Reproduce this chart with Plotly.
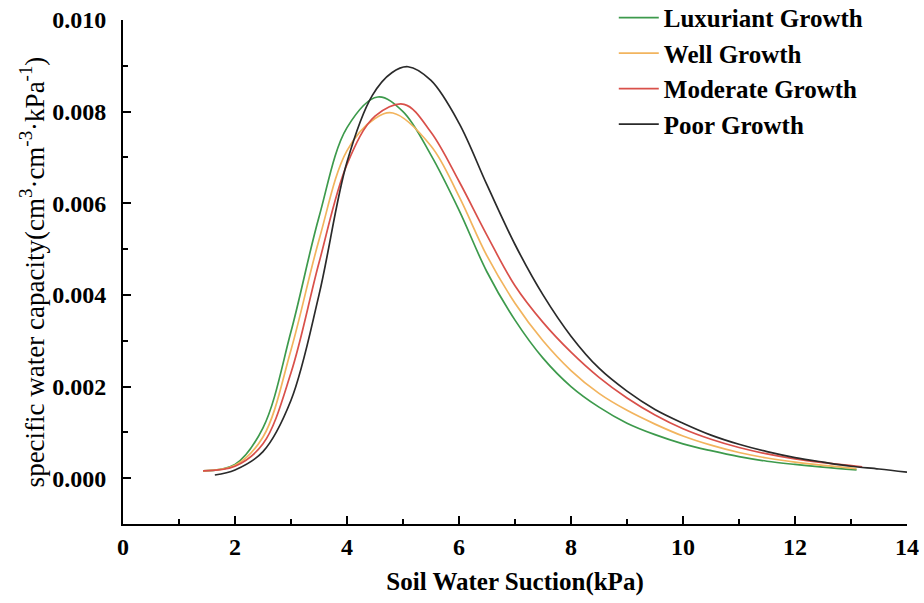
import plotly.graph_objects as go

# Luxuriant Growth
lux_x = [1.43, 2.0, 2.5, 3.0, 3.5, 4.0, 4.55, 5.0, 5.5, 6.0, 6.5, 7.0, 7.5, 8.0, 8.5, 9.0, 9.5, 10.0, 10.5, 11.0, 11.5, 12.0, 12.5, 13.1]
lux_y = [0.00016, 0.00030, 0.00110, 0.00320, 0.00570, 0.00765, 0.00832, 0.00800, 0.00705, 0.00585, 0.00450, 0.00345, 0.00262, 0.00200, 0.00155, 0.00120, 0.00095, 0.00075, 0.00060, 0.00047, 0.00037, 0.00030, 0.00024, 0.00018]

# Well Growth
well_x = [1.43, 2.0, 2.5, 3.0, 3.5, 4.0, 4.5, 4.82, 5.5, 6.0, 6.5, 7.0, 7.5, 8.0, 8.5, 9.0, 9.5, 10.0, 10.5, 11.0, 11.5, 12.0, 12.5, 13.1]
well_y = [0.00016, 0.00028, 0.00090, 0.00280, 0.00520, 0.00715, 0.00785, 0.00797, 0.00725, 0.00615, 0.00485, 0.00382, 0.00300, 0.00235, 0.00185, 0.00148, 0.00118, 0.00092, 0.00072, 0.00056, 0.00044, 0.00035, 0.00028, 0.00021]

# Moderate Growth
mod_x = [1.43, 2.0, 2.5, 3.0, 3.5, 4.0, 4.5, 5.02, 5.5, 6.0, 6.5, 7.0, 7.5, 8.0, 8.5, 9.0, 9.5, 10.0, 10.5, 11.0, 11.5, 12.0, 12.5, 13.2]
mod_y = [0.00016, 0.00026, 0.00075, 0.00230, 0.00470, 0.00685, 0.00790, 0.00816, 0.00755, 0.00648, 0.00530, 0.00420, 0.00340, 0.00275, 0.00220, 0.00175, 0.00138, 0.00108, 0.00085, 0.00067, 0.00053, 0.00042, 0.00034, 0.00025]

# Poor Growth
poor_x = [1.64, 2.0, 2.5, 3.0, 3.5, 4.0, 4.45, 4.8, 5.09, 5.5, 6.0, 6.5, 7.0, 7.5, 8.0, 8.5, 9.0, 9.5, 10.0, 10.5, 11.0, 11.5, 12.0, 12.5, 13.0, 13.5, 14.0]
poor_y = [0.00007, 0.00018, 0.00058, 0.00170, 0.00400, 0.00690, 0.00835, 0.00885, 0.00898, 0.00868, 0.00775, 0.00640, 0.00510, 0.00400, 0.00310, 0.00240, 0.00190, 0.00150, 0.00120, 0.00094, 0.00074, 0.00058, 0.00045, 0.00035, 0.00026, 0.00020, 0.00013]

series = [
    ("Luxuriant Growth", lux_x, lux_y, "#3d9a4c"),
    ("Well Growth", well_x, well_y, "#f2b45e"),
    ("Moderate Growth", mod_x, mod_y, "#d9504a"),
    ("Poor Growth", poor_x, poor_y, "#2a2a2a"),
]

fig = go.Figure()
for name, xs, ys, col in series:
    fig.add_trace(go.Scatter(x=xs, y=ys, mode="lines", name=name,
                             line=dict(color=col, width=1.7, shape="spline", smoothing=1.0)))

serif = "Liberation Serif"
fig.update_layout(
    width=924, height=603,
    margin=dict(l=123, r=17, t=20, b=79, autoexpand=False),
    paper_bgcolor="white", plot_bgcolor="white",
    font=dict(family=serif, color="black"),
    showlegend=True,
    legend=dict(x=0.626, y=1.05, xanchor="left", yanchor="top",
                font=dict(family=serif, size=25, weight="bold", color="black"),
                bgcolor="rgba(0,0,0,0)", tracegroupgap=0, itemwidth=40),
)
fig.update_xaxes(
    range=[0, 14], dtick=2, tick0=0,
    showline=True, linecolor="black", linewidth=2, mirror=False,
    ticks="inside", ticklen=8, tickwidth=2, tickcolor="black",
    minor=dict(dtick=1, ticks="inside", ticklen=5, tickwidth=2, tickcolor="black"),
    showgrid=False, zeroline=False,
    tickfont=dict(family=serif, size=24, weight="bold"),
    title=dict(text="Soil Water Suction(kPa)", font=dict(family=serif, size=25, weight="bold"), standoff=14),
)
fig.update_yaxes(
    range=[-0.001, 0.010], dtick=0.002, tick0=0, tickformat=".3f",
    showline=True, linecolor="black", linewidth=2, mirror=False,
    ticks="inside", ticklen=8, tickwidth=2, tickcolor="black",
    minor=dict(dtick=0.001, ticks="inside", ticklen=5, tickwidth=2, tickcolor="black"),
    showgrid=False, zeroline=False, ticklabelstandoff=10,
    tickfont=dict(family=serif, size=24, weight="bold"),
    title=dict(text="specific water capacity(cm<sup>3</sup>·cm<sup>-3</sup>·kPa<sup>-1</sup>)",
               font=dict(family=serif, size=27), standoff=0),
)
fig.write_html("out.html")
